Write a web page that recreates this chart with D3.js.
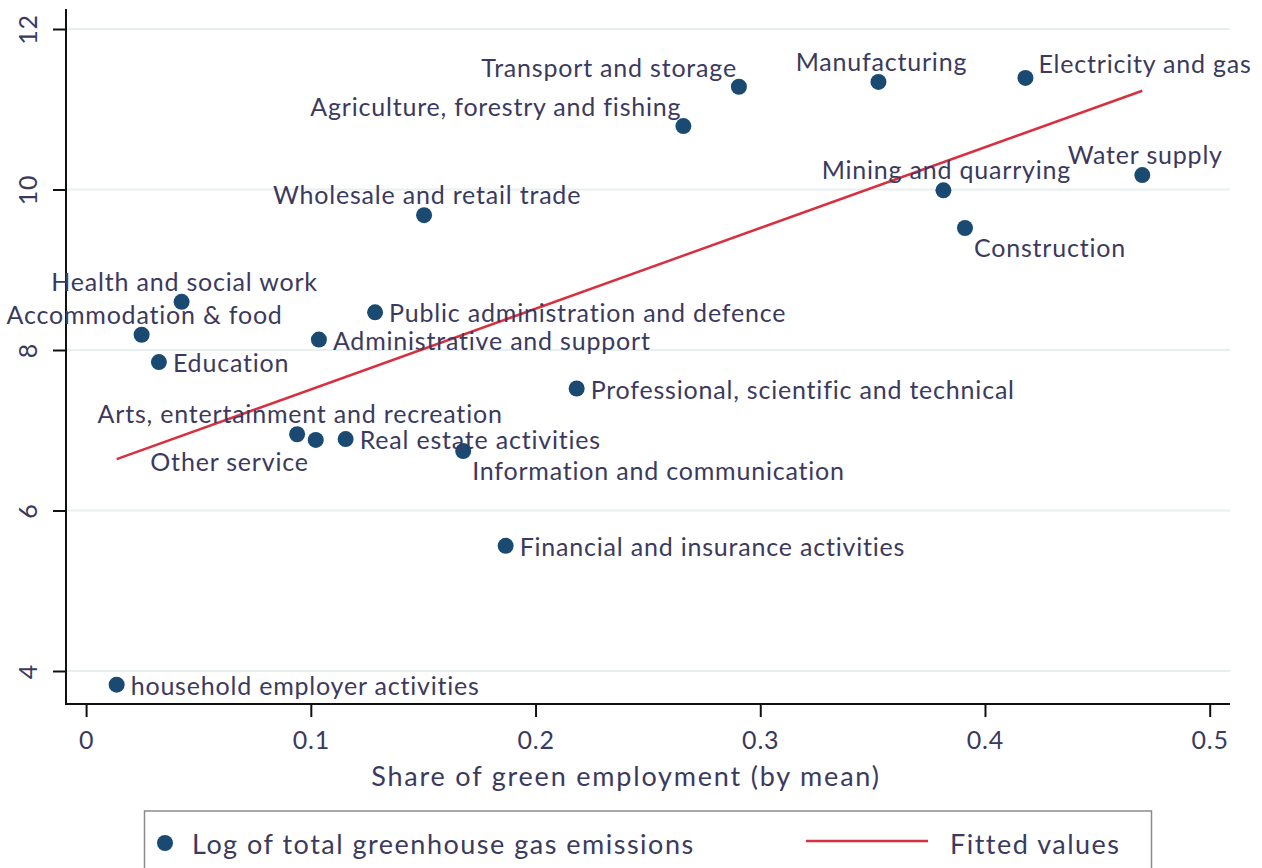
<!DOCTYPE html>
<html>
<head>
<meta charset="utf-8">
<script src="https://cdn.jsdelivr.net/npm/d3@7"></script>
<style>
  body { margin: 0; background: #fff; }
  text { font-family: Lato, "Open Sans", sans-serif; fill: #3b3a5e; }
</style>
</head>
<body>
<div id="chart"></div>
<script>
// data
var sectors = [
    "Transport and storage", "Manufacturing", "Electricity and gas",
    "Agriculture, forestry and fishing", "Water supply", "Mining and quarrying",
    "Construction", "Wholesale and retail trade", "Health and social work",
    "Accommodation & food", "Education", "Administrative and support",
    "Public administration and defence", "Professional, scientific and technical",
    "Arts, entertainment and recreation", "Other service", "Real estate activities",
    "Information and communication", "Financial and insurance activities",
    "household employer activities"
];
var shareGreen = [0.2905, 0.3526, 0.418, 0.2658, 0.470, 0.3815, 0.3911, 0.1504, 0.0425,
    0.0247, 0.0324, 0.1036, 0.1286, 0.2183, 0.0939, 0.1022, 0.1155, 0.1678, 0.1867, 0.0136];
var logGhg = [11.28, 11.34, 11.39, 10.79, 10.18, 9.99, 9.52, 9.68, 8.60,
    8.19, 7.85, 8.13, 8.47, 7.52, 6.95, 6.88, 6.89, 6.74, 5.56, 3.83];

// fitted line end points
var fitX = [0.0136, 0.470];
var fitY = [6.64, 11.23];

var xTicks = [0, 0.1, 0.2, 0.3, 0.4, 0.5];
var yTicks = [4, 6, 8, 10, 12];

// label placement (clock position, like stata mlabvpos)
var labelClock = {
    "Transport and storage": 11, "Manufacturing": 12, "Electricity and gas": 1,
    "Agriculture, forestry and fishing": 11, "Water supply": 12, "Mining and quarrying": 12,
    "Construction": 5, "Wholesale and retail trade": 12, "Health and social work": 12,
    "Accommodation & food": 12, "Arts, entertainment and recreation": 12,
    "Other service": 7, "Information and communication": 5
};
var clockOffset = {
    3: { dx: 14, dy: 0, anchor: "start" },
    12: { dx: 3, dy: -21, anchor: "middle" },
    11: { dx: -2, dy: -20, anchor: "end" },
    1: { dx: 13, dy: -15, anchor: "start" },
    5: { dx: 9, dy: 19, anchor: "start" },
    7: { dx: -7, dy: 21, anchor: "end" }
};

var svgWidth = 1262;
var svgHeight = 868;

var svg = d3.select("#chart")
    .append("svg")
    .attr("width", svgWidth)
    .attr("height", svgHeight);

svg.append("rect")
    .attr("width", svgWidth)
    .attr("height", svgHeight)
    .attr("fill", "#fff");

var xScale = d3.scaleLinear().domain([0, 0.5]).range([86.1, 1209.7]);
var yScale = d3.scaleLinear().domain([4, 12]).range([671, 29]);

var axisX = 66, axisY = 704, plotTop = 9, plotRight = 1230;

// gridlines
svg.append("g")
    .selectAll("line")
    .data(yTicks)
    .enter()
    .append("line")
    .attr("x1", axisX)
    .attr("x2", plotRight)
    .attr("y1", d => yScale(d))
    .attr("y2", d => yScale(d))
    .attr("stroke", "#e7eff1")
    .attr("stroke-width", 2);

// axes
var leftAxis = d3.axisLeft(yScale).tickValues(yTicks).tickSize(13).tickSizeOuter(0).tickFormat(d3.format("d"));
var bottomAxis = d3.axisBottom(xScale).tickValues(xTicks).tickSize(13).tickSizeOuter(0)
    .tickFormat(d => d === 0 ? "0" : d3.format(".1f")(d));

var gy = svg.append("g")
    .attr("transform", `translate(${axisX},0)`)
    .call(leftAxis);
gy.select(".domain").remove();
gy.selectAll(".tick line").attr("stroke", "#111").attr("stroke-width", 2);
gy.selectAll(".tick text")
    .attr("x", null).attr("dy", null)
    .attr("transform", "translate(-39,0) rotate(-90)")
    .attr("text-anchor", "middle")
    .attr("dominant-baseline", "central")
    .style("font-size", "25px")
    .style("letter-spacing", "0.8px")
    .style("font-family", "Lato, sans-serif")
    .attr("fill", "#3b3a5e");

var gx = svg.append("g")
    .attr("transform", `translate(0,${axisY})`)
    .call(bottomAxis);
gx.select(".domain").remove();
gx.selectAll(".tick line").attr("stroke", "#111").attr("stroke-width", 2);
gx.selectAll(".tick text")
    .attr("y", 35).attr("dy", null)
    .attr("dominant-baseline", "central")
    .style("font-size", "25px")
    .style("letter-spacing", "0.8px")
    .style("font-family", "Lato, sans-serif")
    .attr("fill", "#3b3a5e");

// axis lines
svg.append("line")
    .attr("x1", axisX).attr("x2", axisX)
    .attr("y1", plotTop).attr("y2", axisY + 1)
    .attr("stroke", "#111").attr("stroke-width", 2);
svg.append("line")
    .attr("x1", axisX - 1).attr("x2", plotRight)
    .attr("y1", axisY).attr("y2", axisY)
    .attr("stroke", "#111").attr("stroke-width", 2);

// axis title
svg.append("text")
    .attr("x", 626)
    .attr("y", 775)
    .attr("text-anchor", "middle")
    .attr("dominant-baseline", "central")
    .style("font-size", "27px")
    .style("letter-spacing", "1.8px")
    .text("Share of green employment (by mean)");

// fitted line
svg.append("line")
    .attr("x1", xScale(fitX[0])).attr("y1", yScale(fitY[0]))
    .attr("x2", xScale(fitX[1])).attr("y2", yScale(fitY[1]))
    .attr("stroke", "#d7303f")
    .attr("stroke-width", 2.5);

var points = sectors.map((s, i) => ({ name: s, x: shareGreen[i], y: logGhg[i] }));

svg.append("g")
    .selectAll("circle")
    .data(points)
    .enter()
    .append("circle")
    .attr("cx", d => xScale(d.x))
    .attr("cy", d => yScale(d.y))
    .attr("r", 8)
    .attr("fill", "#1a4a72");

svg.append("g")
    .selectAll("text")
    .data(points)
    .enter()
    .append("text")
    .each(function (d) {
        var o = clockOffset[labelClock[d.name] || 3];
        d3.select(this)
            .attr("x", xScale(d.x) + o.dx)
            .attr("y", yScale(d.y) + o.dy)
            .attr("text-anchor", o.anchor);
    })
    .attr("dominant-baseline", "central")
    .style("font-size", "25px")
    .style("letter-spacing", "0.8px")
    .text(d => d.name);

// legend
var legend = svg.append("g");
legend.append("rect")
    .attr("x", 144.5).attr("y", 811)
    .attr("width", 1007).attr("height", 90)
    .attr("fill", "none")
    .attr("stroke", "#8a8a8a")
    .attr("stroke-width", 1.5);
legend.append("circle")
    .attr("cx", 165).attr("cy", 843)
    .attr("r", 8)
    .attr("fill", "#1a4a72");
legend.append("text")
    .attr("x", 192).attr("y", 843)
    .attr("dominant-baseline", "central")
    .style("font-size", "27px")
    .style("letter-spacing", "1.5px")
    .text("Log of total greenhouse gas emissions");
legend.append("line")
    .attr("x1", 806).attr("x2", 928)
    .attr("y1", 841).attr("y2", 841)
    .attr("stroke", "#d7303f")
    .attr("stroke-width", 2.5);
legend.append("text")
    .attr("x", 950).attr("y", 843)
    .attr("dominant-baseline", "central")
    .style("font-size", "27px")
    .style("letter-spacing", "1.5px")
    .text("Fitted values");
</script>
</body>
</html>
